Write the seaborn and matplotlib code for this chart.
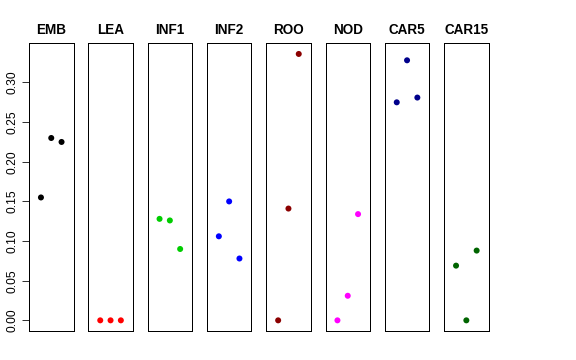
import numpy as np
import pandas as pd
import matplotlib
matplotlib.use("Agg")
import matplotlib.pyplot as plt
import seaborn as sns

# one panel per tissue, three replicates each
tissues = ["EMB", "LEA", "INF1", "INF2", "ROO", "NOD", "CAR5", "CAR15"]
colors = ["black", "red", "#00CD00", "blue", "#8B0000", "magenta", "#00008B", "#006400"]
replicate = [1, 2, 3]
emb = [0.155, 0.230, 0.225]
lea = [0.0, 0.0, 0.0]
inf1 = [0.128, 0.126, 0.090]
inf2 = [0.106, 0.150, 0.078]
roo = [0.0, 0.141, 0.336]
nod = [0.0, 0.031, 0.134]
car5 = [0.275, 0.328, 0.281]
car15 = [0.069, 0.0, 0.088]
values = [emb, lea, inf1, inf2, roo, nod, car5, car15]

df = pd.DataFrame({
    "tissue": np.repeat(tissues, 3),
    "rep": replicate * len(tissues),
    "value": np.concatenate(values),
})

plt.rcParams["font.family"] = ["Liberation Sans", "DejaVu Sans"]

fig = plt.figure(figsize=(8, 5), dpi=72)
W, H = 576, 360
ymax = df["value"].max()
ypad = ymax * 0.04

for i, (t, c) in enumerate(zip(tissues, colors)):
    left = 29 + i * 59.3
    ax = fig.add_axes([left / W, 29 / H, 44.5 / W, 287.7 / H])
    sub = df[df["tissue"] == t]
    sns.scatterplot(data=sub, x="rep", y="value", color=c, s=36,
                    edgecolor="none", ax=ax, legend=False)
    ax.set_xlim(-0.16, 4.16)
    ax.set_ylim(-ypad, ymax + ypad)
    ax.set_xticks([])
    ax.set_xlabel("")
    ax.set_ylabel("")
    ax.set_title(t, fontsize=13.5, fontweight="bold", pad=9)
    for s in ax.spines.values():
        s.set_linewidth(1)
        s.set_color("black")
    if i == 0:
        ax.set_yticks(np.arange(0, 0.31, 0.05))
        ax.set_yticklabels([f"{v:.2f}" for v in np.arange(0, 0.31, 0.05)],
                           rotation=90, va="center", fontsize=12)
        ax.tick_params(axis="y", length=7, pad=3)
    else:
        ax.set_yticks([])

fig.savefig("out.png", dpi=72)
